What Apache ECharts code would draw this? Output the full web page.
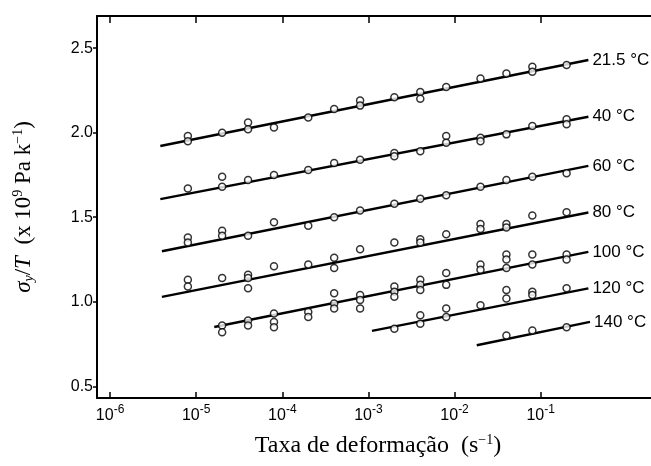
<!DOCTYPE html>
<html>
<head>
<meta charset="utf-8">
<script src="https://cdn.jsdelivr.net/npm/echarts@6/dist/echarts.min.js"></script>
<style>html,body{margin:0;padding:0;background:#fff}#c{width:651px;height:466px}</style>
</head>
<body>
<div id="c"></div>
<script>
// Temperatures (series names)
const temps = ['21.5 °C', '40 °C', '60 °C', '80 °C', '100 °C', '120 °C', '140 °C'];

// Strain rates (s^-1) and sigma_y/T values (x10^9 Pa/K) for each temperature
const rate_215 = [8e-6, 8e-6, 2e-5, 4e-5, 4e-5, 8e-5, 2e-4, 4e-4, 8e-4, 8e-4, 2e-3, 4e-3, 4e-3, 8e-3, 2e-2, 4e-2, 8e-2, 8e-2, 0.2];
const sig_215  = [1.98, 1.95, 2.00, 2.06, 2.02, 2.03, 2.09, 2.14, 2.19, 2.16, 2.21, 2.24, 2.20, 2.27, 2.32, 2.35, 2.39, 2.36, 2.40];

const rate_40 = [8e-6, 2e-5, 2e-5, 4e-5, 8e-5, 2e-4, 4e-4, 8e-4, 2e-3, 2e-3, 4e-3, 8e-3, 8e-3, 2e-2, 2e-2, 4e-2, 8e-2, 0.2, 0.2];
const sig_40  = [1.67, 1.74, 1.68, 1.72, 1.75, 1.78, 1.82, 1.84, 1.88, 1.86, 1.89, 1.98, 1.94, 1.97, 1.95, 1.99, 2.04, 2.08, 2.05];

const rate_60 = [8e-6, 8e-6, 2e-5, 2e-5, 4e-5, 8e-5, 2e-4, 4e-4, 8e-4, 2e-3, 4e-3, 8e-3, 2e-2, 4e-2, 8e-2, 0.2];
const sig_60  = [1.38, 1.35, 1.42, 1.39, 1.39, 1.47, 1.45, 1.50, 1.54, 1.58, 1.61, 1.63, 1.68, 1.72, 1.74, 1.76];

const rate_80 = [8e-6, 8e-6, 2e-5, 4e-5, 4e-5, 4e-5, 8e-5, 2e-4, 4e-4, 4e-4, 8e-4, 2e-3, 4e-3, 4e-3, 8e-3, 2e-2, 2e-2, 4e-2, 4e-2, 8e-2, 0.2];
const sig_80  = [1.13, 1.09, 1.14, 1.16, 1.14, 1.08, 1.21, 1.22, 1.26, 1.20, 1.31, 1.35, 1.37, 1.35, 1.40, 1.46, 1.43, 1.46, 1.44, 1.51, 1.53];

const rate_100 = [2e-5, 2e-5, 4e-5, 4e-5, 8e-5, 8e-5, 8e-5, 2e-4, 2e-4, 4e-4, 4e-4, 4e-4, 8e-4, 8e-4, 8e-4, 2e-3, 2e-3, 2e-3, 4e-3, 4e-3, 4e-3, 8e-3, 8e-3, 2e-2, 2e-2, 4e-2, 4e-2, 4e-2, 8e-2, 8e-2, 0.2, 0.2];
const sig_100  = [0.86, 0.82, 0.89, 0.86, 0.93, 0.88, 0.85, 0.94, 0.91, 1.05, 0.99, 0.96, 1.04, 1.01, 0.96, 1.09, 1.06, 1.03, 1.13, 1.10, 1.07, 1.17, 1.10, 1.22, 1.19, 1.28, 1.25, 1.20, 1.28, 1.22, 1.28, 1.25];

const rate_120 = [2e-3, 4e-3, 4e-3, 8e-3, 8e-3, 2e-2, 4e-2, 4e-2, 8e-2, 8e-2, 0.2];
const sig_120  = [0.84, 0.92, 0.87, 0.96, 0.91, 0.98, 1.07, 1.02, 1.06, 1.04, 1.08];

const rate_140 = [4e-2, 8e-2, 0.2];
const sig_140  = [0.80, 0.83, 0.85];

// Fitted straight lines (start / end rate, start / end value)
const fitRateStart = [3.83e-6, 3.83e-6, 4.0e-6, 4.0e-6, 1.62e-5, 1.10e-3, 1.81e-2];
const fitRateEnd   = [0.358, 0.358, 0.358, 0.358, 0.358, 0.358, 0.374];
const fitSigStart  = [1.921, 1.607, 1.299, 1.029, 0.851, 0.828, 0.743];
const fitSigEnd    = [2.430, 2.094, 1.804, 1.528, 1.295, 1.079, 0.881];

// Axis ticks
const xTickExp = [-6, -5, -4, -3, -2, -1];
const yTicks = [0.5, 1.0, 1.5, 2.0, 2.5];

const rates = [rate_215, rate_40, rate_60, rate_80, rate_100, rate_120, rate_140];
const sigs = [sig_215, sig_40, sig_60, sig_80, sig_100, sig_120, sig_140];

const sans = "'Liberation Sans', Arial, sans-serif";
const serif = "'Liberation Serif', 'Times New Roman', serif";

const series = [];
temps.forEach((t, i) => {
  series.push({
    name: t, type: 'line', silent: true, symbol: 'none', z: 2,
    data: [[Math.log10(fitRateStart[i]), fitSigStart[i]], [Math.log10(fitRateEnd[i]), fitSigEnd[i]]],
    lineStyle: { color: '#000', width: 2.4 },
    endLabel: { show: true, formatter: t, color: '#000', fontFamily: sans, fontSize: 17, distance: 4 }
  });
  series.push({
    name: t, type: 'scatter', silent: true, z: 3,
    symbol: 'circle', symbolSize: 7,
    itemStyle: { color: '#fff', borderColor: '#000', borderWidth: 1.5 },
    data: rates[i].map((r, j) => [Math.log10(r), sigs[i][j]])
  });
});

const chart = echarts.init(document.getElementById('c'), null, { renderer: 'canvas' });
chart.setOption({
  animation: false,
  backgroundColor: '#fff',
  grid: { left: 97, top: 16, right: 0, bottom: 68 },
  xAxis: [{
    type: 'value', position: 'bottom', min: -6.152, max: 0.281,
    splitLine: { show: false },
    axisLine: { show: true, onZero: false, lineStyle: { color: '#000', width: 2 } },
    axisTick: { show: true, inside: true, length: 6, customValues: xTickExp, lineStyle: { color: '#000', width: 1.5 } },
    axisLabel: {
      show: true, customValues: xTickExp, margin: 6, color: '#000',
      formatter: v => '{b|10}{s|' + v + '}',
      rich: {
        b: { fontFamily: sans, fontSize: 16, color: '#000' },
        s: { fontFamily: sans, fontSize: 12, color: '#000', padding: [0, 0, 11, 0] }
      }
    },
    name: '{t|Taxa de deformação  (s}{s|−1}{t|)}',
    nameLocation: 'middle', nameGap: 35,
    nameTextStyle: {
      padding: [0, 0, 0, 8],
      rich: {
        t: { fontFamily: serif, fontSize: 24, color: '#000' },
        s: { fontFamily: serif, fontSize: 14, color: '#000', padding: [0, 0, 12, 0] }
      }
    }
  }, {
    type: 'value', position: 'top', min: -6.152, max: 0.281,
    splitLine: { show: false },
    axisLine: { show: true, onZero: false, lineStyle: { color: '#000', width: 2 } },
    axisTick: { show: true, inside: true, length: 7, customValues: xTickExp, lineStyle: { color: '#000', width: 1.5 } },
    axisLabel: { show: false }
  }],
  yAxis: {
    type: 'value', min: 0.431, max: 2.69,
    splitLine: { show: false },
    axisLine: { show: true, onZero: false, lineStyle: { color: '#000', width: 2 } },
    axisTick: { show: true, inside: false, length: 4, customValues: yTicks, lineStyle: { color: '#000', width: 1.5 } },
    axisLabel: { show: true, customValues: yTicks, margin: 4, color: '#000', fontFamily: sans, fontSize: 16, formatter: v => v.toFixed(1) },
    name: '{i|σ}{sb|y}{n|/}{i|T}{n|  (x 10}{sp|9}{n| Pa k}{sp|−1}{n|)}',
    nameLocation: 'middle', nameRotate: 90, nameGap: 60,
    nameTextStyle: {
      rich: {
        i: { fontFamily: serif, fontStyle: 'italic', fontSize: 23, color: '#000' },
        n: { fontFamily: serif, fontSize: 23, color: '#000' },
        sb: { fontFamily: serif, fontStyle: 'italic', fontSize: 14, color: '#000', padding: [10, 0, 0, 0] },
        sp: { fontFamily: serif, fontSize: 14, color: '#000', padding: [0, 0, 12, 0] }
      }
    }
  },
  series: series
});
</script>
</body>
</html>
